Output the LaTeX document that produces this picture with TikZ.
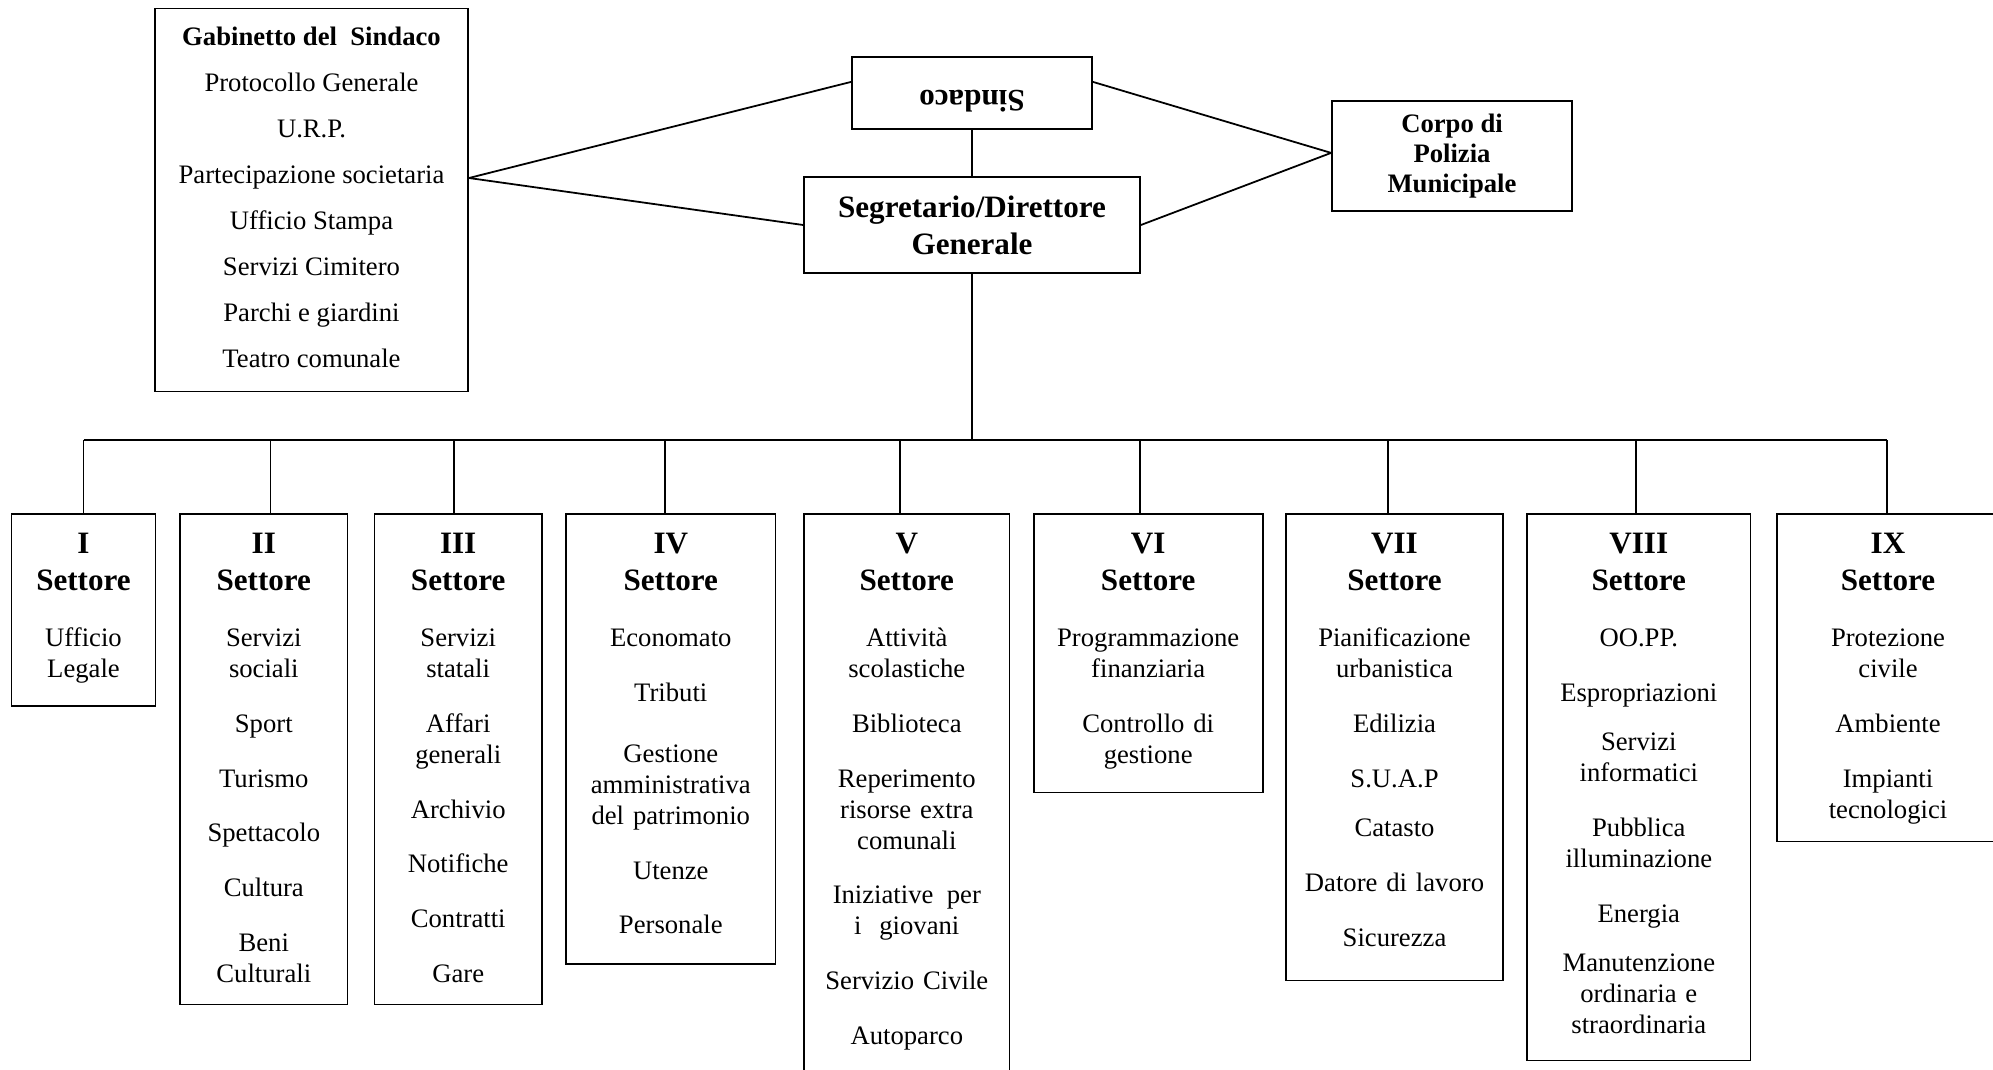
\documentclass[tikz,border=0pt]{standalone}
\usepackage{fontspec}
\setmainfont{Liberation Serif}
\usepackage{graphicx}

\newcommand{\settore}[1]{{\fontsize{14}{16.7}\selectfont\bfseries #1\\Settore\par}\vspace{11.2pt}}

\begin{document}
\begin{tikzpicture}[x=0.45pt, y=-0.45pt, line width=0.8pt,
  box/.style={draw, align=center, font=\fontsize{12}{13.95}\selectfont},
  sect/.style={box, anchor=north, inner xsep=0pt, inner ysep=0pt, text height=17.8pt}]
  \useasboundingbox (0,0) rectangle (1993,1069);

  % vertici
  \node[box, minimum width=140.9pt, minimum height=172.4pt, text depth=2.5pt, font=\fontsize{12}{20.7}\selectfont] (gab) at (311.5,200)
    {\textbf{Gabinetto del\ \ Sindaco}\\Protocollo Generale\\U.R.P.\\Partecipazione societaria\\Ufficio Stampa\\Servizi Cimitero\\Parchi e giardini\\Teatro comunale};
  \node[box, minimum width=108pt, minimum height=32.4pt, text height=7.2pt, font=\fontsize{14}{16.7}\selectfont\bfseries] (sindaco) at (972,93) {\rotatebox{180}{Sindaco}};
  \node[box, minimum width=151.2pt, minimum height=43.2pt, font=\fontsize{14}{16.7}\selectfont\bfseries] (segr) at (972,225) {Segretario/Direttore\\Generale};
  \node[box, minimum width=108pt, minimum height=49.5pt, font=\fontsize{12}{13.5}\selectfont\bfseries] (corpo) at (1452,156) {Corpo di\\Polizia\\Municipale};

  \coordinate (gj) at ([yshift=9.9pt]gab.east);
  \coordinate (cj) at ([yshift=1.4pt]corpo.west);
  \draw (gj) -- ([yshift=5pt]sindaco.west);
  \draw (gj) -- (segr.west);
  \draw ([yshift=5pt]sindaco.east) -- (cj);
  \draw (segr.east) -- (cj);
  \draw (sindaco) -- (segr);

  % settori
  \node[sect, text width=64.8pt, text depth=68.6pt] (s1) at (83.5,513) {\settore{I}Ufficio\\Legale};
  \node[sect, text width=75.4pt, text depth=203pt] (s2) at (263.8,513)
    {\settore{II}Servizi\\sociali\\[10.7pt]Sport\\[10.7pt]Turismo\\[10.7pt]Spettacolo\\[10.7pt]Cultura\\[10.7pt]Beni\\Culturali};
  \node[sect, text width=75.4pt, text depth=203pt] (s3) at (458.2,513)
    {\settore{III}Servizi\\statali\\[10.7pt]Affari\\generali\\[10.7pt]Archivio\\[10.7pt]Notifiche\\[10.7pt]Contratti\\[10.7pt]Gare};
  \node[sect, text width=94.3pt, text depth=184.7pt] (s4) at (670.8,513)
    {\settore{IV}Economato\\[10.7pt]Tributi\\[13.5pt]Gestione\\amministrativa\\del patrimonio\\[10.7pt]Utenze\\[10.7pt]Personale};
  \node[sect, text width=92.5pt, text depth=246pt] (s5) at (906.8,513)
    {\settore{V}Attività\\scolastiche\\[10.7pt]Biblioteca\\[10.7pt]Reperimento\\risorse extra\\comunali\\[10.7pt]Iniziative\enspace per\\i\ \ giovani\\[10.7pt]Servizio Civile\\[10.7pt]Autoparco};
  \node[sect, text width=103pt, text depth=107.6pt] (s6) at (1148.2,513)
    {\settore{VI}Programmazione\\finanziaria\\[10.7pt]Controllo di\\gestione};
  \node[sect, text width=97.7pt, text depth=192.2pt] (s7) at (1394.5,513)
    {\settore{VII}Pianificazione\\urbanistica\\[10.7pt]Edilizia\\[10.7pt]S.U.A.P\\[8.3pt]Catasto\\[10.7pt]Datore di lavoro\\[10.7pt]Sicurezza};
  \node[sect, text width=100.6pt, text depth=228.2pt] (s8) at (1638.8,513)
    {\settore{VIII}OO.PP.\\[10.7pt]Espropriazioni\\[8.3pt]Servizi\\informatici\\[10.7pt]Pubblica\\illuminazione\\[10.7pt]Energia\\[8.3pt]Manutenzione\\ordinaria e\\straordinaria};
  \node[sect, text width=99.9pt, text depth=129.6pt] (s9) at (1888,513)
    {\settore{IX}Protezione\\civile\\[10.7pt]Ambiente\\[10.7pt]Impianti\\tecnologici};

  \coordinate (bus) at (972,440);
  \draw (segr) -- (bus);
  \foreach \n/\x in {1/83.5, 2/270.4, 3/454, 4/665, 5/900, 6/1140, 7/1388, 8/1636, 9/1886.6} {
    \coordinate (d\n) at (\x,440);
    \draw (d\n) -- (d\n |- s\n.north);
  }
  \draw (d1) -- (d9);
\end{tikzpicture}
\end{document}
